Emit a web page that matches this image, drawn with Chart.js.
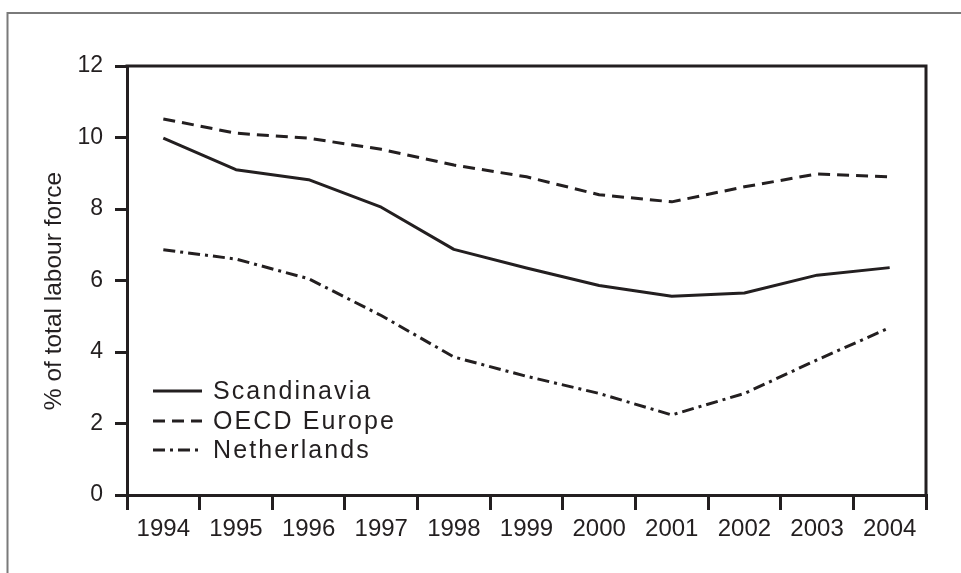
<!DOCTYPE html>
<html>
<head>
<meta charset="utf-8">
<script src="https://cdn.jsdelivr.net/npm/chart.js@4"></script>
<style>
  html, body { margin: 0; padding: 0; background: #fff; }
  #wrap { width: 961px; height: 573px; }
</style>
</head>
<body>
<div id="wrap"><canvas id="chart" width="961" height="573"></canvas></div>
<script>
const years        = ['1994','1995','1996','1997','1998','1999','2000','2001','2002','2003','2004']
const scandinavia  = [9.98, 9.1, 8.82, 8.05, 6.87, 6.35, 5.86, 5.56, 5.65, 6.15, 6.36]
const oecdEurope   = [10.52, 10.12, 9.98, 9.67, 9.23, 8.9, 8.4, 8.2, 8.62, 8.98, 8.9]
const netherlands  = [6.86, 6.6, 6.05, 5.02, 3.86, 3.32, 2.84, 2.24, 2.84, 3.78, 4.68]
const yTicks       = [0, 2, 4, 6, 8, 10, 12]
const yTitle       = '% of total labour force'

const INK  = '#231f20'
const FONT = '"Liberation Sans", Arial, Helvetica, sans-serif'

const DASHES = { solid: [], dashed: [12, 7], dashDot: [12, 5, 3, 5] }

// canvas letterSpacing is not everywhere, so space the letters by hand
function spacedText(ctx, text, x, y, gap) {
  for (const ch of text) {
    ctx.fillText(ch, x, y)
    x += ctx.measureText(ch).width + gap
  }
}

// gray frame, top/right plot border, y title and legend
const decorPlugin = {
  id: 'decor',
  beforeDraw(chart) {
    const ctx = chart.ctx
    ctx.save()
    ctx.strokeStyle = '#7a7a7a'
    ctx.lineWidth = 2
    ctx.beginPath()
    ctx.moveTo(961, 13)
    ctx.lineTo(7.5, 13)
    ctx.lineTo(7.5, 573)
    ctx.stroke()

    ctx.translate(54, 291)
    ctx.rotate(-Math.PI / 2)
    ctx.font = '24.5px ' + FONT
    ctx.fillStyle = INK
    ctx.textAlign = 'center'
    ctx.textBaseline = 'middle'
    ctx.fillText(yTitle, 0, 0)
    ctx.restore()
  },
  afterDraw(chart) {
    const { ctx, chartArea: a } = chart
    ctx.save()
    ctx.strokeStyle = INK
    ctx.lineWidth = 3
    ctx.beginPath()
    ctx.moveTo(a.left - 1.5, a.top)
    ctx.lineTo(a.right, a.top)
    ctx.lineTo(a.right, a.bottom + 1.5)
    ctx.stroke()

    const rows = [391, 421, 450]
    ctx.font = '25px ' + FONT
    ctx.textBaseline = 'middle'
    ctx.fillStyle = INK
    chart.data.datasets.forEach((ds, i) => {
      const y = rows[i]
      ctx.setLineDash(ds.borderDash || [])
      ctx.lineWidth = 3
      ctx.beginPath()
      ctx.moveTo(153, y)
      ctx.lineTo(202, y)
      ctx.stroke()
      ctx.setLineDash([])
      spacedText(ctx, ds.label, 213, y + 1, 2.1)
    })
    ctx.restore()
  }
}

new Chart(document.getElementById('chart'), {
  type: 'line',
  data: {
    labels: years,
    datasets: [
      { label: 'Scandinavia', data: scandinavia, borderDash: DASHES.solid },
      { label: 'OECD Europe', data: oecdEurope, borderDash: DASHES.dashed },
      { label: 'Netherlands', data: netherlands, borderDash: DASHES.dashDot }
    ].map(ds => ({
      ...ds,
      borderColor: INK,
      borderWidth: 3,
      pointRadius: 0,
      tension: 0,
      fill: false,
      borderCapStyle: 'butt',
      borderJoinStyle: 'round'
    }))
  },
  options: {
    responsive: false,
    animation: false,
    layout: { padding: { top: 66, right: 35, left: 0, bottom: 0 } },
    plugins: {
      legend: { display: false },
      tooltip: { enabled: false }
    },
    scales: {
      x: {
        type: 'category',
        offset: true,
        afterFit: s => { s.height = 78 },
        grid: { offset: true, drawOnChartArea: false, drawTicks: true, tickLength: 15, lineWidth: 3, color: INK },
        border: { display: true, color: INK, width: 3 },
        ticks: { color: INK, font: { family: FONT, size: 24 }, padding: 5, maxRotation: 0, autoSkip: false }
      },
      y: {
        min: 0,
        max: 12,
        afterFit: s => { s.width = 127 },
        afterBuildTicks: s => { s.ticks = yTicks.map(v => ({ value: v })) },
        grid: { drawOnChartArea: false, drawTicks: true, tickLength: 12, lineWidth: 3, color: INK },
        border: { display: true, color: INK, width: 3 },
        ticks: { color: INK, font: { family: FONT, size: 23 }, padding: 12 }
      }
    }
  },
  plugins: [decorPlugin]
})
</script>
</body>
</html>
